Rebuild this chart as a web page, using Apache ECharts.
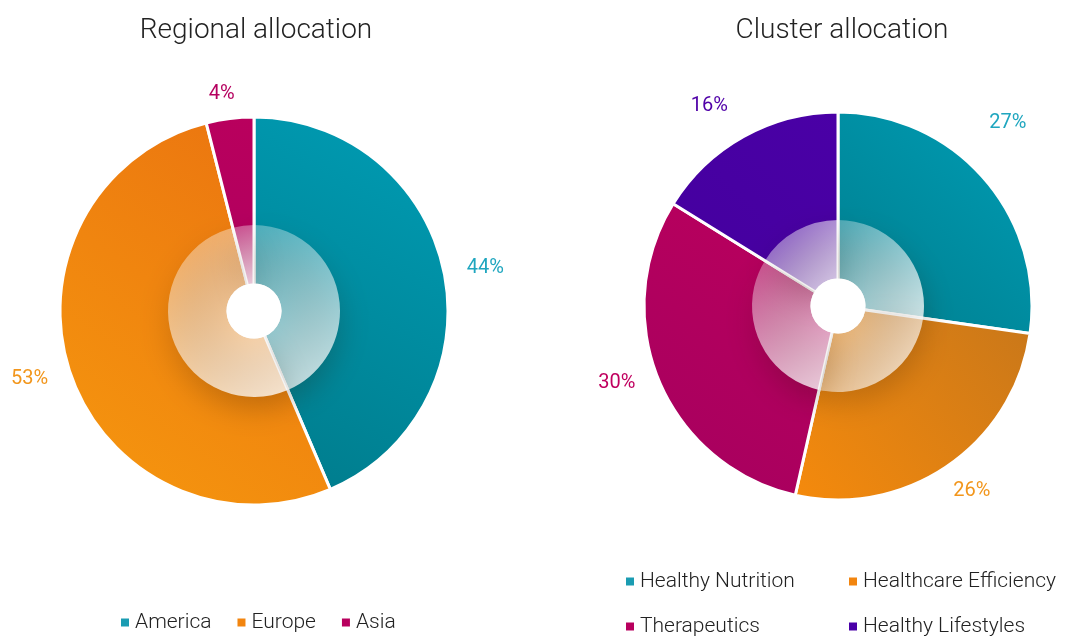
<!DOCTYPE html>
<html>

<head>
  <meta charset="UTF-8">
  <title>Allocation</title>
  <script src="https://cdn.jsdelivr.net/npm/echarts@6/dist/echarts.min.js"></script>
  <style>
    html, body { margin: 0; padding: 0; background: #fff; }
    #chart { width: 1065px; height: 639px; }
  </style>
</head>

<body>
  <div id="chart"></div>
  <script>
    // values (percent)
    const regionNames = ['America', 'Europe', 'Asia'];
    const regionValues = [44, 53, 4];
    const clusterNames = ['Healthy Nutrition', 'Healthcare Efficiency', 'Therapeutics', 'Healthy Lifestyles'];
    const clusterValues = [27, 26, 30, 16];

    // slice gradients: [from, to]
    const palette = {
      'America': ['#009db5', '#007b8b'],
      'Europe': ['#ea7210', '#f6980e'],
      'Asia': ['#b9005d', '#b0005f'],
      'Healthy Nutrition': ['#009db5', '#007d8d'],
      'Healthcare Efficiency': ['#c8771a', '#f58a0c'],
      'Therapeutics': ['#bb005d', '#a5005f'],
      'Healthy Lifestyles': ['#4a00a6', '#44009e']
    };
    const labelColor = {
      'America': '#1fa6bf', 'Europe': '#f2961c', 'Asia': '#b5005f',
      'Healthy Nutrition': '#1fa6bf', 'Healthcare Efficiency': '#f2961c',
      'Therapeutics': '#c0005f', 'Healthy Lifestyles': '#5000a8'
    };
    // small nudges so the percent labels sit where the original puts them
    const labelNudge = {
      'Asia': [12, -7],
      'Healthy Nutrition': [-14, -44],
      'Healthcare Efficiency': [-10, 10],
      'Healthy Lifestyles': [-2, -15],
      'Therapeutics': [-2, -5]
    };
    const legendColor = {
      'America': '#1a9cb2', 'Europe': '#f2850f', 'Asia': '#b8005e',
      'Healthy Nutrition': '#1a9cb2', 'Healthcare Efficiency': '#f2850f',
      'Therapeutics': '#b8005e', 'Healthy Lifestyles': '#4a00a8'
    };

    function grad(name) {
      const c = palette[name];
      return new echarts.graphic.LinearGradient(1, 0, 0, 1, [
        { offset: 0, color: c[0] },
        { offset: 1, color: c[1] }
      ]);
    }

    function outerData(names, values) {
      return names.map((n, i) => ({
        name: n,
        value: values[i],
        itemStyle: { color: grad(n) },
        label: { color: labelColor[n], offset: labelNudge[n] || [0, 0] }
      }));
    }

    function overlayData(names, values) {
      return names.map((n, i) => ({
        name: n + ' ',
        value: values[i],
        itemStyle: {
          color: new echarts.graphic.LinearGradient(0, 0, 1, 1, [
            { offset: 0, color: 'rgba(255,255,255,0.3)' },
            { offset: 1, color: 'rgba(255,255,255,0.8)' }
          ])
        }
      }));
    }

    function pieSeries(names, values, center) {
      return [{
        type: 'pie',
        center: center,
        radius: [26, 194],
        startAngle: 90,
        avoidLabelOverlap: false,
        itemStyle: { borderColor: '#fff', borderWidth: 3 },
        label: {
          show: true,
          position: 'outside',
          formatter: '{c}%',
          fontFamily: 'Roboto',
          fontSize: 20
        },
        labelLine: { show: false, length: 18, length2: 0 },
        emphasis: { disabled: true },
        data: outerData(names, values)
      }, {
        type: 'pie',
        center: center,
        radius: [26, 86],
        startAngle: 90,
        silent: true,
        z: 3,
        label: { show: false },
        labelLine: { show: false },
        itemStyle: {
          borderWidth: 0,
          shadowColor: 'rgba(40,20,0,0.35)',
          shadowBlur: 30,
          shadowOffsetY: 10
        },
        data: overlayData(names, values)
      }, {
        // plain white hole in the middle
        type: 'pie',
        center: center,
        radius: [0, 27.5],
        silent: true,
        z: 4,
        label: { show: false },
        labelLine: { show: false },
        itemStyle: { color: '#fff', borderWidth: 0, shadowBlur: 0 },
        data: [{ name: 'hole', value: 1 }]
      }];
    }

    const legendText = { fontFamily: 'Roboto', fontWeight: 300, fontSize: 21, color: '#222' };

    function legendData(names) {
      return names.map(n => ({ name: n, itemStyle: { color: legendColor[n] } }));
    }

    const chart = echarts.init(document.getElementById('chart'));
    chart.setOption({
      animation: false,
      backgroundColor: '#fff',
      title: [{
        text: 'Regional allocation',
        left: 251, top: 12, textAlign: 'center',
        textStyle: { fontFamily: 'Roboto', fontWeight: 300, fontSize: 28, color: '#222' }
      }, {
        text: 'Cluster allocation',
        left: 837, top: 12, textAlign: 'center',
        textStyle: { fontFamily: 'Roboto', fontWeight: 300, fontSize: 28, color: '#222' }
      }],
      legend: [{
        left: 119, top: 612, padding: 0,
        icon: 'rect', itemWidth: 10, itemHeight: 10, itemGap: 24,
        textStyle: legendText,
        data: legendData(regionNames)
      }, {
        left: 624, top: 571, padding: 0, height: 68, orient: 'vertical',
        icon: 'rect', itemWidth: 10, itemHeight: 10, itemGap: 24,
        textStyle: legendText,
        data: legendData([clusterNames[0], clusterNames[2]])
      }, {
        left: 847, top: 571, padding: 0, height: 68, orient: 'vertical',
        icon: 'rect', itemWidth: 10, itemHeight: 10, itemGap: 24,
        textStyle: legendText,
        data: legendData([clusterNames[1], clusterNames[3]])
      }],
      series: [
        ...pieSeries(regionNames, regionValues, [254, 311]),
        ...pieSeries(clusterNames, clusterValues, [838, 306])
      ]
    });
  </script>
</body>

</html>
